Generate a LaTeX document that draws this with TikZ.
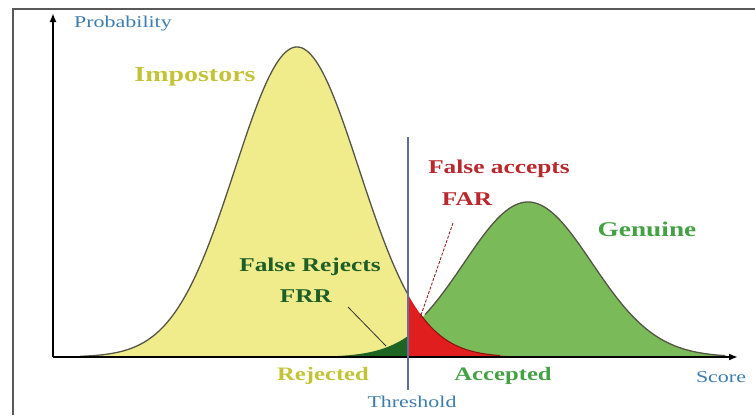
\documentclass[tikz,border=0pt]{standalone}
\usepackage{fontspec}
\setmainfont{Liberation Serif}
\usetikzlibrary{arrows.meta}
\definecolor{impfill}{RGB}{240,236,140}
\definecolor{genfill}{RGB}{122,186,88}
\definecolor{darkgen}{RGB}{30,100,35}
\definecolor{redfill}{RGB}{225,30,30}
\definecolor{outl}{RGB}{85,85,70}
\definecolor{axblue}{RGB}{60,125,175}
\definecolor{thrcol}{RGB}{105,105,155}
\definecolor{olivetxt}{RGB}{195,195,55}
\definecolor{gentxt}{RGB}{70,160,70}
\definecolor{frrtxt}{RGB}{30,95,40}
\definecolor{fartxt}{RGB}{185,40,45}
\tikzset{
  lbl/.style={inner sep=0pt, xscale=1.33, font=\fontsize{16.5}{18}\selectfont, text=axblue},
  boldlbl/.style={inner sep=0pt, xscale=1.3, font=\fontsize{20}{22}\selectfont\bfseries, align=center},
  axis/.style={line width=2pt, -{Latex[length=9pt,width=7pt]}},
  curveline/.style={draw=outl, line width=1.3pt},
}
\begin{document}
\begin{tikzpicture}[x=1pt,y=-1pt]
\useasboundingbox (0,0) rectangle (755,415);
% frame
\draw[line width=1.5pt, black!65] (13,415) -- (13,9) -- (755,9);
% fills
\fill[impfill] (60,357) -- plot[domain=60:408,samples=120] (\x,{357-310*exp(-0.5*((\x-297)/62)^2)}) -- (408,357) -- cycle;
\fill[genfill] (408,357) -- plot[domain=408:735,samples=120] (\x,{357-155*exp(-0.5*((\x-528)/64)^2)}) -- (735,357) -- cycle;
\fill[redfill] (408,357) -- plot[domain=408:520,samples=60] (\x,{357-310*exp(-0.5*((\x-297)/62)^2)}) -- (520,357) -- cycle;
\fill[darkgen] (330,357) -- plot[domain=330:408,samples=60] (\x,{357-155*exp(-0.5*((\x-528)/60)^2)}) -- (408,357) -- cycle;
% outlines
\draw[curveline] plot[domain=80:408,samples=140] (\x,{357-310*exp(-0.5*((\x-297)/62)^2)});
\draw[curveline, draw=redfill!60!black, line width=1pt] plot[domain=420:500,samples=40] (\x,{357-310*exp(-0.5*((\x-297)/62)^2)});
\draw[curveline] plot[domain=425:725,samples=120] (\x,{357-155*exp(-0.5*((\x-528)/64)^2)});
% axes
\coordinate (origin) at (53,357);
\coordinate (ytop) at (53,13);
\coordinate (xright) at (738,357);
\draw[axis] (origin) -- (ytop);
\draw[axis] (origin) -- (xright);
% threshold
\coordinate (thrtop) at (408,137);
\coordinate (thrbot) at (408,390);
\draw[thrcol, line width=1.5pt] (thrtop) -- (thrbot);
% labels
\node[lbl] (prob) at (123,24) {Probability};
\node[lbl] (score) at (721,377) {Score};
\node[lbl] (thr) at (412,402) {Threshold};
\node[boldlbl, text=olivetxt, font=\fontsize{21.5}{23}\selectfont\bfseries] (imp) at (195,77) {Impostors};
\node[boldlbl, text=gentxt, font=\fontsize{21}{23}\selectfont\bfseries] (gen) at (647,229) {Genuine};
\node[boldlbl, text=olivetxt, font=\fontsize{19}{21}\selectfont\bfseries] (rej) at (323,376) {Rejected};
\node[boldlbl, text=gentxt, font=\fontsize{19}{21}\selectfont\bfseries] (acc) at (503,376) {Accepted};
\node[boldlbl, text=frrtxt, font=\fontsize{19.5}{21}\selectfont\bfseries] (frr) at (310,267) {False Rejects};
\node[boldlbl, text=frrtxt, font=\fontsize{19.5}{21}\selectfont\bfseries] (frr2) at (306,296) {FRR};
\node[boldlbl, text=fartxt, font=\fontsize{19.5}{21}\selectfont\bfseries] (far) at (499,169) {False accepts};
\node[boldlbl, text=fartxt, font=\fontsize{19.5}{21}\selectfont\bfseries] (far2) at (467,199) {FAR};
% pointers
\coordinate (frrstart) at (348,307);
\coordinate (frrtip) at (386,346);
\draw[black!80, line width=0.8pt] (frrstart) -- (frrtip);
\coordinate (farstart) at (453,223);
\coordinate (fartip) at (420,318);
\draw[fartxt!80!black, line width=0.9pt, dash pattern=on 3pt off 1.5pt] (farstart) -- (fartip);
\end{tikzpicture}
\end{document}
